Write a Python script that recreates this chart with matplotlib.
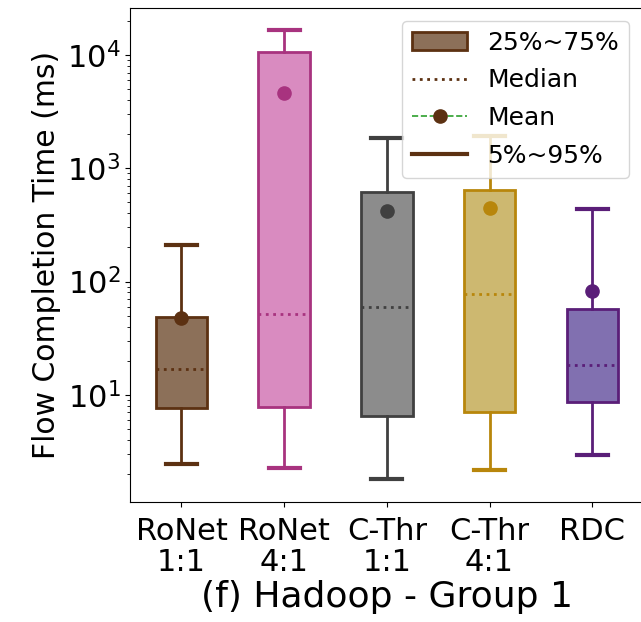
import matplotlib
matplotlib.use('Agg')
import matplotlib.pyplot as plt
from matplotlib.patches import Patch
from matplotlib.lines import Line2D

labels = ['RoNet\n1:1', 'RoNet\n4:1', 'C-Thr\n1:1', 'C-Thr\n4:1', 'RDC']
p5 = [2.45, 2.26, 1.8, 2.17, 2.94]
q1 = [7.7, 7.8, 6.5, 7.07, 8.67]
med = [17, 52, 60, 78, 18.4]
q3 = [49, 10600, 614, 638, 57.7]
p95 = [212, 16700, 1840, 1920, 434]
mean = [48, 4600, 417, 443, 83]

face_colors = ['#8c7059', '#d98bc0', '#8c8c8c', '#cdb870', '#8170b0']
edge_colors = ['#5c3112', '#a8337f', '#404040', '#b8860b', '#5a1e78']

fig = plt.figure(figsize=(6.41, 6.22), dpi=100)
ax = fig.add_axes([0.203, 0.193, 0.801, 0.794])

for i in range(len(labels)):
    stats = [dict(med=med[i], q1=q1[i], q3=q3[i], whislo=p5[i], whishi=p95[i],
                  mean=mean[i], fliers=[])]
    ec = edge_colors[i]
    ax.bxp(stats, positions=[i + 1], widths=0.5, capwidths=0.3,
           patch_artist=True, showmeans=True,
           boxprops=dict(facecolor=face_colors[i], edgecolor=ec, linewidth=2),
           whiskerprops=dict(color=ec, linewidth=2),
           capprops=dict(color=ec, linewidth=3),
           medianprops=dict(color=ec, linestyle=':', linewidth=2),
           meanprops=dict(marker='o', markerfacecolor=ec, markeredgecolor=ec,
                          markersize=9.5))

ax.set_yscale('log')
ax.set_ylim(1.13, 26000)
ax.set_xlim(0.5, 5.5)
ax.spines['right'].set_visible(False)
ax.set_xticks(range(1, 6))
ax.set_xticklabels(labels, fontsize=22, linespacing=1.1)
ax.tick_params(axis='x', pad=7)
ax.tick_params(axis='y', labelsize=22)
ax.set_ylabel('Flow Completion Time (ms)', fontsize=21.5)
ax.set_xlabel('(f) Hadoop - Group 1', fontsize=26, labelpad=2)

handles = [
    Patch(facecolor=face_colors[0], edgecolor=edge_colors[0], linewidth=2),
    Line2D([], [], color=edge_colors[0], linestyle=':', linewidth=2),
    Line2D([], [], color='#2ca02c', linestyle='--', marker='o',
           markerfacecolor=edge_colors[0], markeredgecolor=edge_colors[0],
           markersize=9.5, linewidth=1.2),
    Line2D([], [], color=edge_colors[0], linewidth=3),
]
ax.legend(handles, ['25%~75%', 'Median', 'Mean', '5%~95%'],
          loc='upper right', bbox_to_anchor=(0.996, 1.0), fontsize=18,
          handlelength=2.2, labelspacing=0.55)

fig.savefig('out.png', dpi=100)
